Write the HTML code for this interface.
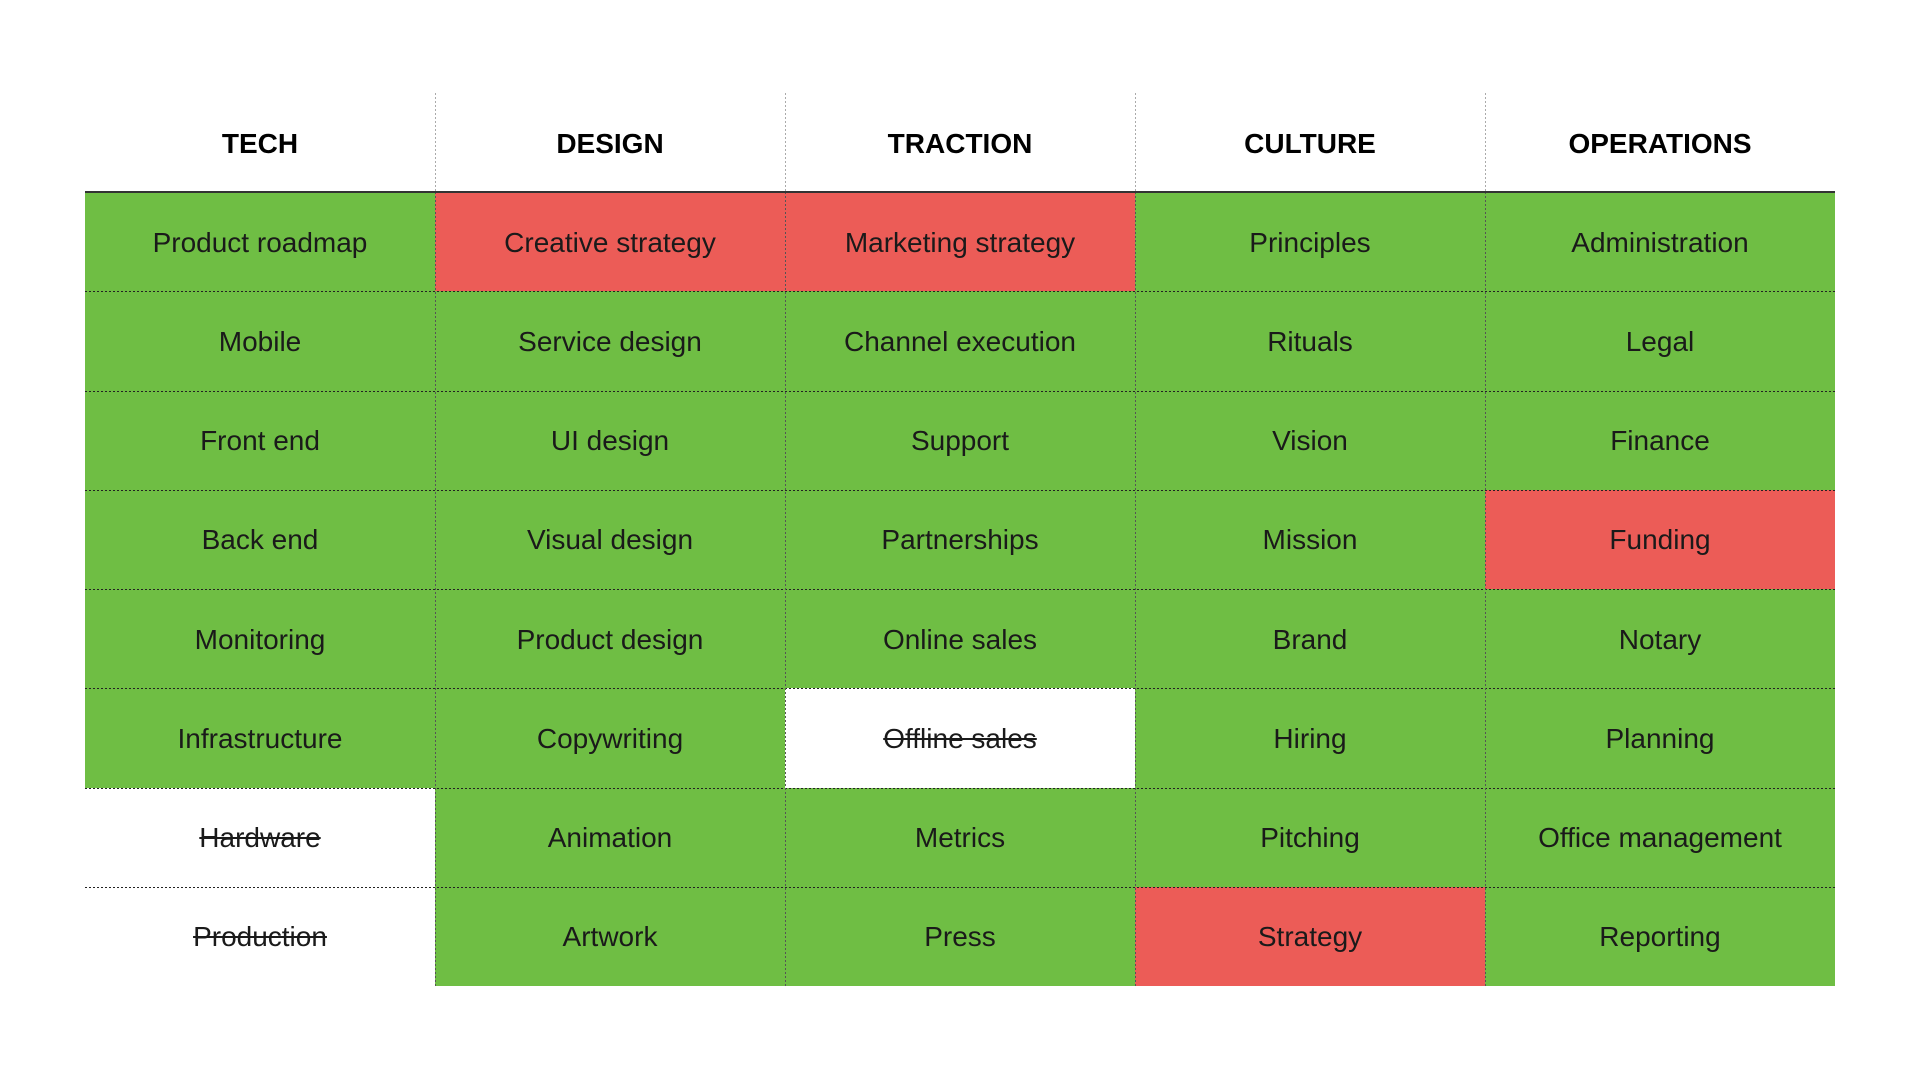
<!DOCTYPE html>
<html><head><meta charset="utf-8"><style>
html,body{margin:0;padding:0;background:#fff;width:1920px;height:1080px;overflow:hidden;font-family:"Liberation Sans",sans-serif;}
.h{position:absolute;top:94px;height:99px;width:350px;text-align:center;line-height:100px;font-weight:bold;font-size:28px;color:#000;}
.c{position:absolute;width:350px;height:99.25px;box-sizing:border-box;display:flex;align-items:center;justify-content:center;font-size:28px;color:#1a1a1a;padding-top:2px;}
.g{background:#6fbe44}.r{background:#ec5c57}.w{background:#fff}
.s{text-decoration:line-through;}
.hl{position:absolute;left:85px;width:1750px;height:1px;background:repeating-linear-gradient(90deg,#222 0 2px,transparent 2px 4px)}
.vl{position:absolute;width:1px;background:repeating-linear-gradient(180deg,#555 0 2px,transparent 2px 4px)}
</style></head><body>
<div class="h" style="left:85px">TECH</div>
<div class="h" style="left:435px">DESIGN</div>
<div class="h" style="left:785px">TRACTION</div>
<div class="h" style="left:1135px">CULTURE</div>
<div class="h" style="left:1485px">OPERATIONS</div>
<div id="grid"></div>
<script>
var d=[
[["Product roadmap","g"],["Mobile","g"],["Front end","g"],["Back end","g"],["Monitoring","g"],["Infrastructure","g"],["Hardware","w s"],["Production","w s"]],
[["Creative strategy","r"],["Service design","g"],["UI design","g"],["Visual design","g"],["Product design","g"],["Copywriting","g"],["Animation","g"],["Artwork","g"]],
[["Marketing strategy","r"],["Channel execution","g"],["Support","g"],["Partnerships","g"],["Online sales","g"],["Offline sales","w s"],["Metrics","g"],["Press","g"]],
[["Principles","g"],["Rituals","g"],["Vision","g"],["Mission","g"],["Brand","g"],["Hiring","g"],["Pitching","g"],["Strategy","r"]],
[["Administration","g"],["Legal","g"],["Finance","g"],["Funding","r"],["Notary","g"],["Planning","g"],["Office management","g"],["Reporting","g"]]];
var h="";
for(var c=0;c<5;c++)for(var r=0;r<8;r++){var it=d[c][r];var cls=it[1].split(" ");
h+='<div class="c '+cls[0]+'" style="left:'+(85+350*c)+'px;top:'+(192+99.25*r)+'px"><span class="'+(cls[1]||"")+'">'+it[0]+'</span></div>';}
for(var r=1;r<8;r++)h+='<div class="hl" style="top:'+Math.round(192+99.25*r)+'px"></div>';
for(var c=1;c<5;c++){h+='<div class="vl" style="left:'+(435+350*(c-1))+'px;top:93px;height:99px;background:repeating-linear-gradient(180deg,#aaa 0 2px,transparent 2px 4px)"></div>';
h+='<div class="vl" style="left:'+(435+350*(c-1))+'px;top:192px;height:794px"></div>';}
h+='<div style="position:absolute;left:85px;top:191px;width:1750px;height:2px;background:#333"></div>';
document.getElementById("grid").innerHTML=h;
</script>
</body></html>
